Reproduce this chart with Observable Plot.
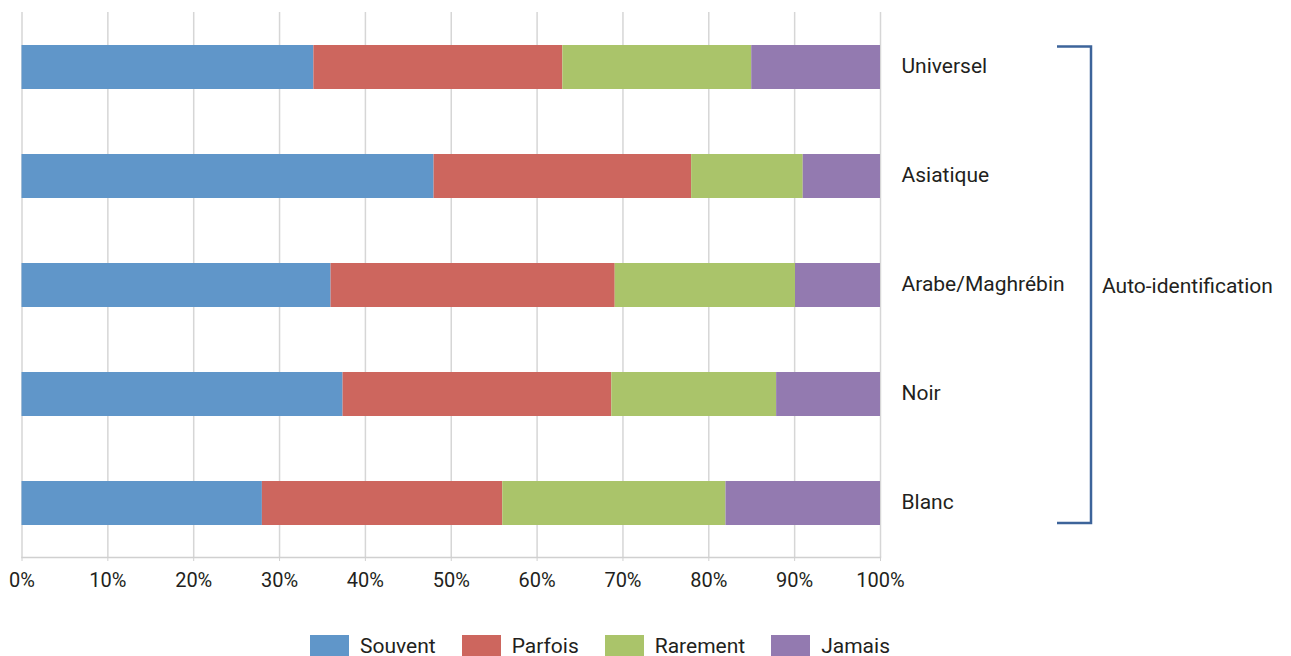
<!DOCTYPE html>
<html>
<head>
<meta charset="utf-8">
<script src="https://cdn.jsdelivr.net/npm/d3@7"></script>
<script src="https://cdn.jsdelivr.net/npm/@observablehq/plot@0.6"></script>
<style>
  html, body { margin: 0; padding: 0; background: #fff; overflow: hidden; }
  #wrap { position: relative; width: 1291px; height: 656px; font-family: Roboto, "Noto Sans", sans-serif; color: #231f20; }
  #legend { position: absolute; left: 310px; top: 634px; display: flex; align-items: flex-start; font-size: 21px; }
  #legend .item { display: flex; align-items: center; margin-right: 26px; }
  #legend .sw { width: 39px; height: 22px; margin-right: 11px; }
</style>
</head>
<body>
<div id="wrap"></div>
<script>
const categories = ["Universel", "Asiatique", "Arabe/Maghrébin", "Noir", "Blanc"];
const series = ["Souvent", "Parfois", "Rarement", "Jamais"];
const souvent  = [34, 48, 36, 37.4, 28];
const parfois  = [29, 30, 33.1, 31.3, 28];
const rarement = [22, 13, 21, 19.2, 26];
const jamais   = [15, 9, 9.9, 12.1, 18];
const colors = ["#6096c9", "#cd665e", "#aac46a", "#937ab0"];
const xTicks = [0, 10, 20, 30, 40, 50, 60, 70, 80, 90, 100];
const groupLabel = "Auto-identification";

(function () {
  const valuesBySeries = [souvent, parfois, rarement, jamais];
  const rows = [];
  series.forEach((s, si) => {
    categories.forEach((c, ci) => rows.push({category: c, series: s, value: valuesBySeries[si][ci]}));
  });

  const chart = Plot.plot({
    width: 1291,
    height: 600,
    marginLeft: 21.5,
    marginRight: 411,
    marginTop: 12,
    marginBottom: 43,
    style: {fontFamily: "Roboto, 'Noto Sans', sans-serif", fontSize: "20px", color: "#231f20", background: "transparent"},
    x: {domain: [0, 100]},
    y: {domain: categories, paddingInner: 0.6, paddingOuter: 0.3},
    color: {domain: series, range: colors},
    marks: [
      Plot.gridX(xTicks, {stroke: "#d6d6d6", strokeOpacity: 1, strokeWidth: 1.5}),
      Plot.frame({anchor: "bottom", stroke: "#d0d0d0", strokeWidth: 1.5}),
      Plot.barX(rows, Plot.stackX({x: "value", y: "category", fill: "series", order: series})),
      Plot.axisX({ticks: xTicks, tickFormat: d => d + "%", tickSize: 4, tickPadding: 11, stroke: "#d0d0d0", label: null}),
      Plot.axisY({anchor: "right", tickSize: 0, tickPadding: 21, textAnchor: "start", label: null, fontSize: 21, dy: -1})
    ]
  });

  document.getElementById("wrap").appendChild(chart);

  // bracket grouping the categories, positioned via the chart's scales
  const xs = chart.scale("x"), ys = chart.scale("y");
  const yTop = ys.apply(categories[0]) + 1.5;
  const yBottom = ys.apply(categories[categories.length - 1]) + ys.bandwidth - 2;
  const xRight = xs.apply(100);
  const bx0 = xRight + 177, bx1 = xRight + 211;
  const svg = d3.select(chart);
  svg.append("path")
    .attr("d", `M${bx0},${yTop}H${bx1}V${yBottom}H${bx0}`)
    .attr("fill", "none")
    .attr("stroke", "#3d649a")
    .attr("stroke-width", 2.5);
  svg.append("text")
    .attr("x", bx1 + 11)
    .attr("y", (yTop + yBottom) / 2 + 1)
    .attr("dy", "0.35em")
    .attr("text-anchor", "start")
    .attr("fill", "#231f20")
    .attr("font-size", 21)
    .text(groupLabel);

  // legend
  const legend = document.createElement("div");
  legend.id = "legend";
  series.forEach((s, i) => {
    const item = document.createElement("div");
    item.className = "item";
    const sw = document.createElement("div");
    sw.className = "sw";
    sw.style.background = colors[i];
    const t = document.createElement("span");
    t.textContent = s;
    item.appendChild(sw);
    item.appendChild(t);
    legend.appendChild(item);
  });
  document.getElementById("wrap").appendChild(legend);
})();
</script>
</body>
</html>
